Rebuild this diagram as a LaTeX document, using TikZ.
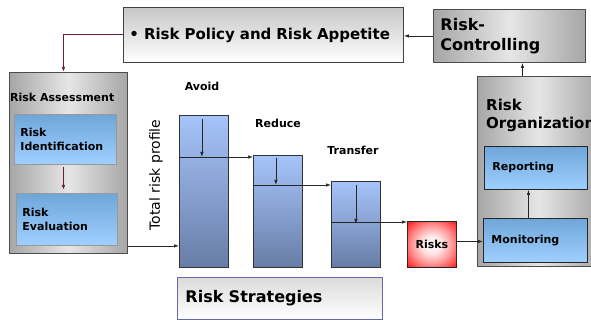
\documentclass[tikz,border=0pt]{standalone}
\usepackage{fontspec}
\setmainfont{DejaVu Sans}
\usetikzlibrary{arrows.meta}

\definecolor{barTop}{RGB}{166,196,250}
\definecolor{barBot}{RGB}{104,125,166}
\definecolor{boxTop}{RGB}{111,166,218}
\definecolor{boxBot}{RGB}{159,208,255}
\definecolor{cylEdge}{RGB}{166,166,166}
\definecolor{cylMid}{RGB}{230,230,230}
\definecolor{maroon}{RGB}{112,26,68}
\definecolor{stratLine}{RGB}{102,102,170}

% red box, white in the middle
\pgfdeclareradialshading{riskglow}{\pgfpoint{0bp}{0bp}}{color(0bp)=(white); color(10bp)=(red!10); color(22bp)=(red!45); color(38bp)=(red); color(50bp)=(red)}

\tikzset{
  cyl/.style={draw=black!70, line width=0.9pt, left color=cylEdge, right color=cylEdge, middle color=cylMid, anchor=north west, inner sep=0pt, align=left},
  bluebox/.style={line width=0.9pt, top color=boxTop, bottom color=boxBot, anchor=north west, inner ysep=0pt, align=left},
  bar/.style={draw=black!80, line width=0.8pt, top color=barTop, bottom color=barBot, anchor=north west, inner sep=0pt, minimum width=49pt},
  arr/.style={line width=0.7pt, draw=black!85, -{Latex[length=5pt,width=3.5pt]}},
  maroonarr/.style={line width=1pt, draw=maroon, -{Latex[length=5pt,width=3.5pt]}},
  f16/.style={font=\bfseries\fontsize{16}{20}\selectfont},
  f15/.style={font=\bfseries\fontsize{15}{18}\selectfont},
  f11/.style={font=\bfseries\fontsize{11}{13.5}\selectfont},
}

\begin{document}
\begin{tikzpicture}[x=1pt,y=-1pt]
\useasboundingbox (0,0) rectangle (591,320);
\clip (0,0) rectangle (591,320);

% top row
\node[draw=black!75, line width=0.9pt, top color=black!22, bottom color=white, anchor=north west, text width=268pt, inner xsep=6pt, inner ysep=0pt, minimum height=55pt, f15] (policy) at (123,7) {\textbullet\ Risk Policy and Risk Appetite};
\node[cyl, text width=138pt, inner xsep=7pt, minimum height=53pt, f16] (ctrl) at (433,9) {Risk-\\Controlling};

% Risk Assessment
\node[cyl, minimum width=118pt, minimum height=181pt] (assess) at (9,72) {};
\node[anchor=west, inner sep=1pt, f11] (assesstitle) at (9,97) {Risk Assessment};
\node[bluebox, draw=black!40, text width=90pt, inner xsep=6pt, minimum height=50pt, f11] (ident) at (14,114) {Risk\\Identification};
\node[bluebox, draw=black!40, text width=89pt, inner xsep=6pt, minimum height=52pt, f11] (evalu) at (16,193) {Risk\\Evaluation};

% strategies
\node[rotate=90, font=\fontsize{14}{17}\selectfont] (profile) at (156,175) {Total risk profile};
\node[bar, minimum height=152pt] (avoid) at (179,115) {};
\node[bar, minimum height=112pt] (reduce) at (253,155) {};
\node[bar, minimum height=86pt] (transfer) at (331,181) {};
\node[f11] (avoidlbl) at (202,86) {Avoid};
\node[f11] (reducelbl) at (278,123) {Reduce};
\node[f11] (transferlbl) at (353,150) {Transfer};
\node[draw=stratLine, line width=0.9pt, top color=black!14, bottom color=white, anchor=north west, text width=189pt, inner xsep=8pt, inner ysep=0pt, minimum height=42pt, align=left, f16] (strat) at (177,277) {\raisebox{2pt}{Risk Strategies}};

% Risks
\node[draw=black!85, line width=0.9pt, shading=riskglow, anchor=north west, inner sep=0pt, minimum width=49pt, minimum height=46pt, f11] (risks) at (407,221) {Risks};

% Risk Organization
\node[cyl, minimum width=122pt, minimum height=190pt] (org) at (477,76) {};
\node[anchor=north west, align=left, inner sep=0pt, f15] (orgtitle) at (486,99) {Risk\\Organization};
\node[bluebox, draw=black!85, text width=87pt, inner xsep=8pt, minimum height=43pt, f11] (report) at (484,146) {Reporting};
\node[bluebox, draw=black!85, text width=88pt, inner xsep=8pt, minimum height=44pt, f11] (monit) at (483,218) {Monitoring};

% cut lines in the bars
\coordinate (cutA) at ([yshift=-42pt]avoid.north west);
\coordinate (cutR) at ([yshift=-30pt]reduce.north west);
\coordinate (cutT) at ([yshift=-41pt]transfer.north west);
\coordinate (a1) at ([yshift=8pt]assess.south east);
\coordinate (c1) at ([xshift=13pt]ctrl.south);

% connectors
\draw[arr] (ctrl.west) -- (ctrl.west -| policy.east);
\draw[maroonarr] (policy.west) -| ([xshift=-5pt]assess.north);
\draw[maroonarr, shorten <=2pt, shorten >=3pt] ([xshift=-2pt]ident.south) -- ([xshift=-2pt]ident.south |- evalu.north);
\draw[arr] (a1) -- (a1 -| avoid.west);
\draw[arr] (cutA) -- (cutA -| reduce.west);
\draw[arr] (cutR) -- (cutR -| transfer.west);
\draw[arr] (cutT) -- (cutT -| risks.west);
\draw[arr] ([xshift=-2pt,yshift=-4pt]avoid.north) -- ([xshift=-2pt]avoid.north |- cutA);
\draw[arr] ([xshift=-2pt,yshift=-3pt]reduce.north) -- ([xshift=-2pt]reduce.north |- cutR);
\draw[arr] ([yshift=-4pt]transfer.north) -- ([yshift=-2pt]transfer.north |- cutT);
\draw[arr] ([yshift=3pt]risks.east) -- ([yshift=3pt]risks.east -| monit.west);
\draw[arr] ([xshift=-7pt]monit.north) -- ([xshift=-7pt]monit.north |- report.south);
\draw[arr] (c1 |- org.north) -- (c1);

\end{tikzpicture}
\end{document}
